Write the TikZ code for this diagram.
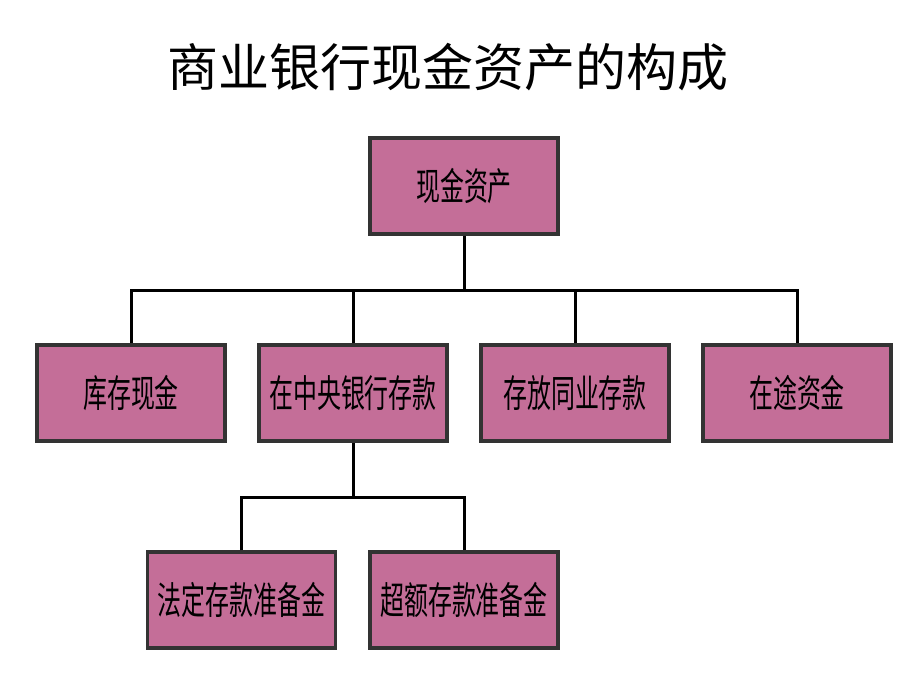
\documentclass[tikz,border=0pt]{standalone}
\usepackage{fontspec}
\usepackage{graphicx}
\newfontfamily\cjk{Noto Sans CJK SC}
\definecolor{boxfill}{HTML}{C46E98}
\definecolor{boxedge}{HTML}{333333}
\begin{document}
\begin{tikzpicture}[x=1pt,y=-1pt,
  box/.style={draw=boxedge, line width=3.5pt, fill=boxfill, minimum width=188pt, minimum height=96pt, inner sep=0pt, font=\cjk\fontsize{38}{38}\selectfont},
  conn/.style={line width=3pt, black}]
\useasboundingbox (0,0) rectangle (920,690);
\fill[white] (0,0) rectangle (920,690);
\node[font=\cjk\fontsize{51}{51}\selectfont] (title) at (448,67) {商业银行现金资产的构成};
\node[box] (root) at (464,186) {\scalebox{0.63}[1]{现金资产}};
\node[box] (a) at (131,393) {\scalebox{0.63}[1]{库存现金}};
\node[box] (b) at (353,393) {\scalebox{0.63}[1]{在中央银行存款}};
\node[box] (c) at (575,393) {\scalebox{0.63}[1]{存放同业存款}};
\node[box] (d) at (797,393) {\scalebox{0.63}[1]{在途资金}};
\node[box] (e) at (241.5,600) {\scalebox{0.63}[1]{法定存款准备金}};
\node[box] (f) at (464,600) {\scalebox{0.63}[1]{超额存款准备金}};
\coordinate (bus1) at (464,290);
\coordinate (bus2) at (353,497);
\draw[conn] (root.south) -- (bus1);
\draw[conn] (a.north) |- (bus1) -| (d.north);
\draw[conn] (b.north) -- (b.north |- bus1);
\draw[conn] (c.north) -- (c.north |- bus1);
\draw[conn] (b.south) -- (bus2);
\draw[conn] (e.north) |- (bus2) -| (f.north);
\end{tikzpicture}
\end{document}
